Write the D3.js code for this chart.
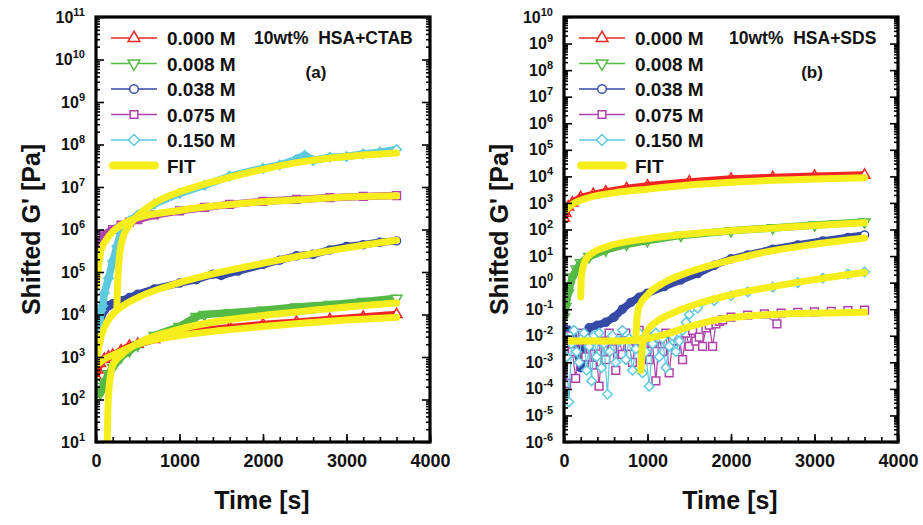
<!DOCTYPE html>
<html>
<head>
<meta charset="utf-8">
<script src="https://cdn.jsdelivr.net/npm/d3@7"></script>
<style>
  body { margin: 0; background: #fff; }
  text { font-family: Arial, "Liberation Sans", sans-serif; font-weight: bold; fill: #111; }
</style>
</head>
<body>
<svg id="chart" width="923" height="525"></svg>
<script>
// ---- data (time in s, G' in Pa) ----
const legendLabels = ['0.000 M', '0.008 M', '0.038 M', '0.075 M', '0.150 M'];
const xTicks = [0, 1000, 2000, 3000, 4000];

// panel (a) 10wt% HSA+CTAB
const aRedT = [0, 20, 50, 100, 150, 200, 300, 400, 500, 700, 1000, 1300, 1600, 2000, 2400, 2800, 3200, 3600];
const aRedG = [3.5e2, 5.0e2, 7.1e2, 8.9e2, 1.0e3, 1.1e3, 1.4e3, 1.8e3, 2.0e3, 2.6e3, 3.5e3, 4.2e3, 4.9e3, 5.8e3, 6.6e3, 7.6e3, 8.7e3, 1.0e4];
const aGreenT = [0, 20, 50, 100, 150, 200, 300, 400, 500, 700, 1000, 1200, 1300, 1600, 2000, 2400, 2800, 3200, 3600];
const aGreenG = [2.0e2, 1.6e2, 1.4e2, 2.5e2, 4.0e2, 5.6e2, 1.0e3, 1.4e3, 1.9e3, 3.2e3, 5.2e3, 8.9e3, 1.0e4, 1.1e4, 1.26e4, 1.5e4, 1.7e4, 2.0e4, 2.4e4];
const aBlueT = [0, 20, 50, 100, 150, 200, 300, 400, 500, 700, 1000, 1200, 1400, 1500, 1700, 2000, 2200, 2400, 2600, 2800, 3000, 3200, 3400, 3600];
const aBlueG = [2.5e3, 4.0e3, 7.1e3, 1.26e4, 1.6e4, 1.8e4, 2.1e4, 2.5e4, 3.0e4, 4.0e4, 5.5e4, 6.6e4, 8.9e4, 8.3e4, 1.05e5, 1.5e5, 1.9e5, 2.4e5, 2.6e5, 3.3e5, 4.0e5, 4.4e5, 5.0e5, 5.4e5];
const aMagT = [0, 20, 50, 100, 200, 300, 400, 500, 700, 1000, 1300, 1600, 2000, 2400, 2800, 3200, 3600];
const aMagG = [1.0e5, 2.5e5, 5.0e5, 7.6e5, 1.0e6, 1.26e6, 1.5e6, 1.7e6, 2.2e6, 2.75e6, 3.3e6, 3.9e6, 4.6e6, 5.1e6, 5.6e6, 6.0e6, 6.3e6];
const aCyanT = [0, 15, 30, 45, 60, 80, 100, 150, 200, 250, 300, 400, 500, 700, 1000, 1300, 1600, 2000, 2200, 2400, 2500, 2600, 2800, 3000, 3200, 3400, 3600];
const aCyanG = [5.0e3, 3.5e3, 7.1e3, 5.6e3, 1.26e4, 1.6e4, 3.2e4, 7.1e4, 1.8e5, 4.0e5, 8.9e5, 1.6e6, 2.2e6, 4.0e6, 7.1e6, 1.1e7, 1.8e7, 2.75e7, 3.3e7, 4.5e7, 5.6e7, 4.2e7, 5.0e7, 5.2e7, 6.0e7, 6.6e7, 7.6e7];

const aRedFitT = [0, 100, 200, 500, 1000, 1500, 2000, 2500, 3000, 3600];
const aRedFitG = [6.3e2, 8.9e2, 1.1e3, 2.0e3, 3.2e3, 4.2e3, 5.2e3, 6.3e3, 7.4e3, 8.5e3];
const aGreenFitT = [135, 140, 150, 170, 200, 300, 500, 1000, 1500, 2000, 2500, 3000, 3600];
const aGreenFitG = [1.0e1, 4.0e1, 1.26e2, 3.2e2, 6.3e2, 1.1e3, 2.1e3, 4.5e3, 7.1e3, 9.5e3, 1.2e4, 1.5e4, 1.86e4];
const aBlueFitT = [0, 50, 100, 200, 300, 500, 1000, 1500, 2000, 2500, 3000, 3600];
const aBlueFitG = [7.9e2, 2.5e3, 5.0e3, 1.0e4, 1.5e4, 2.5e4, 5.6e4, 1.0e5, 1.6e5, 2.5e5, 3.7e5, 5.6e5];
const aMagFitT = [0, 30, 60, 120, 200, 300, 500, 1000, 1500, 2000, 2500, 3000, 3600];
const aMagFitG = [4.5e4, 1.4e5, 3.2e5, 5.6e5, 8.9e5, 1.26e6, 1.9e6, 2.8e6, 3.7e6, 4.5e6, 5.1e6, 5.8e6, 6.2e6];
const aCyanFitT = [250, 260, 280, 320, 400, 500, 700, 1000, 1500, 2000, 2500, 3000, 3600];
const aCyanFitG = [1.4e4, 6.3e4, 2.2e5, 6.3e5, 1.26e6, 2.1e6, 4.2e6, 7.6e6, 1.5e7, 2.6e7, 4.0e7, 5.2e7, 6.3e7];

// panel (b) 10wt% HSA+SDS
const bRedT = [0, 20, 50, 100, 200, 350, 500, 750, 1000, 1500, 2000, 2500, 3000, 3600];
const bRedG = [2.7e2, 4.0e2, 7.1e2, 1.0e3, 1.6e3, 2.1e3, 2.6e3, 3.5e3, 4.4e3, 6.2e3, 7.9e3, 9.1e3, 1.02e4, 1.12e4];
const bGreenT = [0, 20, 50, 100, 150, 200, 300, 500, 750, 1000, 1400, 2000, 2500, 3000, 3600];
const bGreenG = [5.0e-2, 1.26e-1, 4.0e-1, 1.6, 3.2, 5.5, 9.5, 17, 28, 38, 60, 89, 115, 148, 190];
const bBlueT = [0, 50, 100, 150, 200, 250, 300, 400, 500, 600, 700, 800, 900, 1000, 1200, 1400, 1600, 1800, 2000, 2200, 2500, 2800, 3100, 3400, 3600];
const bBlueG = [2.0e-2, 1.6e-2, 1.0e-2, 3.2e-3, 6.3e-4, 1.0e-2, 2.0e-2, 2.5e-2, 3.2e-2, 5.0e-2, 0.1, 0.18, 0.28, 0.4, 0.71, 1.26, 2.2, 4.5, 7.9, 11, 18, 26, 37, 50, 62];
const bMagT = [0, 30, 60, 100, 140, 180, 220, 260, 300, 340, 380, 420, 460, 500, 540, 580, 620, 660, 700, 740, 780, 820, 860, 900, 940, 980,
  1020, 1060, 1100, 1140, 1180, 1220, 1260, 1300, 1340, 1380, 1420, 1460, 1500, 1540, 1580, 1620, 1660, 1700, 1740, 1780, 1820, 1860, 1900,
  2000, 2200, 2400, 2550, 2600, 2800, 3000, 3200, 3400, 3600];
const bMagG = [5.0e-3, 1.6e-4, 1.0e-2, 2.5e-3, 2.5e-4, 6.3e-3, 1.26e-2, 1.6e-3, 7.9e-3, 7.9e-4, 4.0e-3, 1.26e-4, 6.3e-3, 1.26e-3, 1.26e-2, 3.2e-3,
  5.0e-4, 7.9e-3, 2.0e-3, 1.26e-2, 4.0e-3, 1.0e-3, 6.3e-3, 1.6e-2, 2.5e-3, 1.0e-2, 1.26e-3, 5.0e-3, 2.0e-4, 7.9e-3, 2.5e-3, 1.26e-2,
  4.0e-4, 6.3e-3, 3.2e-3, 1.0e-2, 1.26e-3, 1.26e-2, 4.0e-3, 1.6e-2, 6.3e-3, 8.9e-3, 4.0e-3, 2.0e-2, 2.5e-2, 4.0e-3, 2.8e-2, 3.5e-2, 4.0e-2,
  5.0e-2, 6.0e-2, 6.6e-2, 2.8e-2, 7.1e-2, 7.6e-2, 7.9e-2, 8.3e-2, 8.9e-2, 9.3e-2];
const bCyanT = [0, 30, 60, 90, 120, 150, 180, 210, 240, 270, 300, 330, 360, 390, 420, 450, 480, 520, 550, 580, 620, 660, 700, 740, 780, 820,
  860, 900, 940, 980, 1020, 1060, 1100, 1140, 1180, 1220, 1260, 1300, 1340, 1380, 1420, 1460, 1500, 1600, 1800, 2000, 2200, 2500, 2800,
  3100, 3400, 3600];
const bCyanG = [1.0e-2, 1.6e-3, 3.2e-5, 5.0e-3, 1.6e-2, 2.5e-3, 1.0e-3, 7.9e-3, 1.26e-2, 5.0e-4, 4.0e-3, 2.0e-4, 1.0e-2, 1.6e-3, 1.26e-2,
  6.3e-4, 5.0e-3, 6.3e-5, 2.5e-3, 1.0e-2, 1.0e-3, 6.3e-3, 1.6e-2, 1.26e-3, 7.9e-3, 5.0e-4, 3.2e-3, 1.26e-2, 4.0e-4, 2.5e-3, 1.26e-4,
  5.0e-3, 1.26e-2, 1.6e-3, 7.9e-3, 6.3e-4, 4.0e-3, 1.0e-2, 2.5e-3, 6.3e-3, 1.6e-2, 3.2e-2, 6.3e-2, 0.11, 0.21, 0.32, 0.45, 0.68, 1.0,
  1.48, 2.1, 2.5];

const bRedFitT = [0, 100, 300, 600, 1000, 1500, 2000, 2500, 3000, 3600];
const bRedFitG = [4.6e2, 8.9e2, 1.6e3, 2.4e3, 3.3e3, 4.7e3, 6.0e3, 7.1e3, 7.9e3, 8.9e3];
const bGreenFitT = [200, 205, 220, 280, 500, 1000, 1500, 2000, 2500, 3000, 3600];
const bGreenFitG = [0.29, 1.0, 3.0, 9.1, 22, 45, 68, 89, 112, 141, 178];
const bBlueFitT = [860, 875, 900, 1000, 1200, 1500, 2000, 2500, 3000, 3600];
const bBlueFitG = [6.9e-3, 5.0e-2, 0.126, 0.35, 1.0, 2.5, 7.1, 16, 28, 48];
const bMagFitT = [0, 500, 800, 1000, 1200, 1500, 1800, 2000, 2500, 3000, 3600];
const bMagFitG = [6.3e-3, 6.3e-3, 6.6e-3, 7.9e-3, 1.1e-2, 2.2e-2, 3.8e-2, 4.8e-2, 6.3e-2, 7.1e-2, 7.6e-2];
const bCyanFitT = [920, 940, 1000, 1100, 1300, 1600, 2000, 2500, 3000, 3600];
const bCyanFitG = [5.0e-4, 5.0e-3, 1.6e-2, 3.2e-2, 7.1e-2, 0.16, 0.35, 0.71, 1.3, 2.4];

// ---- drawing ----
const colors = ['#f02424', '#55b945', '#3549a6', '#b040ab', '#5dc9de'];
const fitColor = '#f6ee1c';
const svg = d3.select('#chart');

function marker(i, size){
  const type = [d3.symbolTriangle, d3.symbolTriangle, d3.symbolCircle, d3.symbolSquare, d3.symbolSquare][i];
  return d3.symbol().type(type).size(size)();
}
const markerRot = [0, 180, 0, 0, 45];
const markerSize = [50, 50, 50, 60, 45];

function drawPanel(p){
  const x = d3.scaleLinear().domain([0, 4000]).range([p.left, p.right]);
  const y = d3.scaleLog().domain(p.yDomain).range([p.bottom, p.top]);
  const g = svg.append('g');

  svg.append('clipPath').attr('id', 'clip' + p.id).append('rect')
    .attr('x', p.left).attr('y', p.top)
    .attr('width', p.right - p.left).attr('height', p.bottom - p.top);
  const plot = g.append('g').attr('clip-path', `url(#clip${p.id})`);

  // measured data
  p.series.forEach((s, i) => {
    const pts = s.t.map((t, j) => [t, s.g[j]]);
    const line = d3.line().x(d => x(d[0])).y(d => y(d[1]));
    plot.append('path').datum(pts)
      .attr('d', line)
      .attr('fill', 'none')
      .attr('stroke', colors[i])
      .attr('stroke-width', s.noisy ? 1.2 : 7.5)
      .attr('stroke-linejoin', 'round');
    plot.selectAll(null).data(pts).enter().append('path')
      .attr('d', marker(i, markerSize[i]))
      .attr('transform', d => `translate(${x(d[0])},${y(d[1])}) rotate(${markerRot[i]})`)
      .attr('fill', (d, j) => (s.noisy || j === pts.length - 1) ? '#fff' : 'none')
      .attr('stroke', colors[i])
      .attr('stroke-width', 1.5);
  });

  // fits
  p.fits.forEach(f => {
    const pts = f.t.map((t, j) => [t, f.g[j]]);
    plot.append('path').datum(pts)
      .attr('d', d3.line().x(d => x(d[0])).y(d => y(d[1])).curve(d3.curveMonotoneX))
      .attr('fill', 'none')
      .attr('stroke', fitColor)
      .attr('stroke-width', 7)
      .attr('stroke-linecap', 'round')
      .attr('stroke-linejoin', 'round');
  });

  // axes / ticks
  const lo = Math.round(Math.log10(p.yDomain[0])), hi = Math.round(Math.log10(p.yDomain[1]));
  const majors = d3.range(lo, hi + 1).map(e => Math.pow(10, e));
  const minors = [];
  d3.range(lo, hi).forEach(e => d3.range(2, 10).forEach(k => minors.push(k * Math.pow(10, e))));

  const axes = g.append('g');
  axes.append('g').attr('transform', `translate(${p.left},0)`)
    .call(d3.axisLeft(y).tickValues(majors).tickSize(-8).tickFormat(''));
  axes.append('g').attr('transform', `translate(${p.left},0)`)
    .call(d3.axisLeft(y).tickValues(minors).tickSize(-4).tickFormat(''));
  axes.append('g').attr('transform', `translate(${p.right},0)`)
    .call(d3.axisRight(y).tickValues(majors).tickSize(-8).tickFormat(''));
  axes.append('g').attr('transform', `translate(${p.right},0)`)
    .call(d3.axisRight(y).tickValues(minors).tickSize(-4).tickFormat(''));
  axes.append('g').attr('transform', `translate(0,${p.bottom})`)
    .call(d3.axisBottom(x).tickValues(d3.range(0, 4001, 200)).tickSize(-5).tickFormat(''));
  axes.append('g').attr('class', 'xmaj').attr('transform', `translate(0,${p.bottom})`)
    .call(d3.axisBottom(x).tickValues(xTicks).tickSize(-8).tickPadding(12).tickFormat(d3.format('d')));
  axes.selectAll('.domain').remove();
  axes.selectAll('line').attr('stroke', '#000').attr('stroke-width', 1.6);
  axes.selectAll('.xmaj text')
    .attr('font-size', 18).attr('font-family', 'Arial, "Liberation Sans", sans-serif')
    .attr('font-weight', 'bold').attr('fill', '#111');

  // y labels 10^n
  majors.forEach(v => {
    const e = Math.round(Math.log10(v));
    const t = g.append('text')
      .attr('x', p.left - 11).attr('y', y(v) + 5.6)
      .attr('text-anchor', 'end').attr('font-size', 16);
    t.append('tspan').text('10');
    t.append('tspan').attr('dy', -7).attr('font-size', 11).text(e < 0 ? '-' + (-e) : e);
  });

  // frame
  g.append('rect')
    .attr('x', p.left).attr('y', p.top)
    .attr('width', p.right - p.left).attr('height', p.bottom - p.top)
    .attr('fill', 'none').attr('stroke', '#000').attr('stroke-width', 3.2);

  // titles
  g.append('text')
    .attr('x', (p.left + p.right) / 2 - 1).attr('y', 509)
    .attr('text-anchor', 'middle').attr('font-size', 25)
    .text('Time [s]');
  g.append('text')
    .attr('transform', `translate(${p.left - 56},${(p.top + p.bottom) / 2}) rotate(-90)`)
    .attr('text-anchor', 'middle').attr('font-size', 25)
    .text("Shifted G' [Pa]");

  // legend
  const lx = p.left + 15;
  legendLabels.forEach((lab, i) => {
    const ly = 38 + i * 25.5;
    g.append('line').attr('x1', lx).attr('x2', lx + 46).attr('y1', ly).attr('y2', ly)
      .attr('stroke', colors[i]).attr('stroke-width', 1.5);
    g.append('path').attr('d', marker(i, 60))
      .attr('transform', `translate(${lx + 23},${ly}) rotate(${markerRot[i]})`)
      .attr('fill', '#fff').attr('stroke', colors[i]).attr('stroke-width', 1.5);
    g.append('text').attr('x', lx + 56).attr('y', ly + 7).attr('font-size', 19).text(lab);
  });
  const fy = 38 + 5 * 25.5;
  g.append('line').attr('x1', lx + 2).attr('x2', lx + 44).attr('y1', fy).attr('y2', fy)
    .attr('stroke', fitColor).attr('stroke-width', 8).attr('stroke-linecap', 'round');
  g.append('text').attr('x', lx + 56).attr('y', fy + 7).attr('font-size', 19).text('FIT');

  // annotation
  g.append('text').attr('x', p.noteX).attr('y', 44).attr('font-size', 17.5)
    .attr('xml:space', 'preserve').text(p.note);
  g.append('text').attr('x', p.tagX).attr('y', 78).attr('font-size', 17)
    .attr('text-anchor', 'middle').text(p.tag);
}

drawPanel({
  id: 'a', left: 96, right: 430, top: 17, bottom: 442, yDomain: [1e1, 1e11],
  note: '10wt%  HSA+CTAB', noteX: 254, tag: '(a)', tagX: 316,
  series: [
    {t: aRedT, g: aRedG}, {t: aGreenT, g: aGreenG}, {t: aBlueT, g: aBlueG},
    {t: aMagT, g: aMagG}, {t: aCyanT, g: aCyanG}
  ],
  fits: [
    {t: aRedFitT, g: aRedFitG}, {t: aGreenFitT, g: aGreenFitG}, {t: aBlueFitT, g: aBlueFitG},
    {t: aMagFitT, g: aMagFitG}, {t: aCyanFitT, g: aCyanFitG}
  ]
});

drawPanel({
  id: 'b', left: 564, right: 898, top: 17, bottom: 442, yDomain: [1e-6, 1e10],
  note: '10wt%  HSA+SDS', noteX: 729, tag: '(b)', tagX: 812,
  series: [
    {t: bRedT, g: bRedG}, {t: bGreenT, g: bGreenG}, {t: bBlueT, g: bBlueG},
    {t: bMagT, g: bMagG, noisy: true}, {t: bCyanT, g: bCyanG, noisy: true}
  ],
  fits: [
    {t: bRedFitT, g: bRedFitG}, {t: bGreenFitT, g: bGreenFitG}, {t: bBlueFitT, g: bBlueFitG},
    {t: bMagFitT, g: bMagFitG}, {t: bCyanFitT, g: bCyanFitG}
  ]
});
</script>
</body>
</html>
